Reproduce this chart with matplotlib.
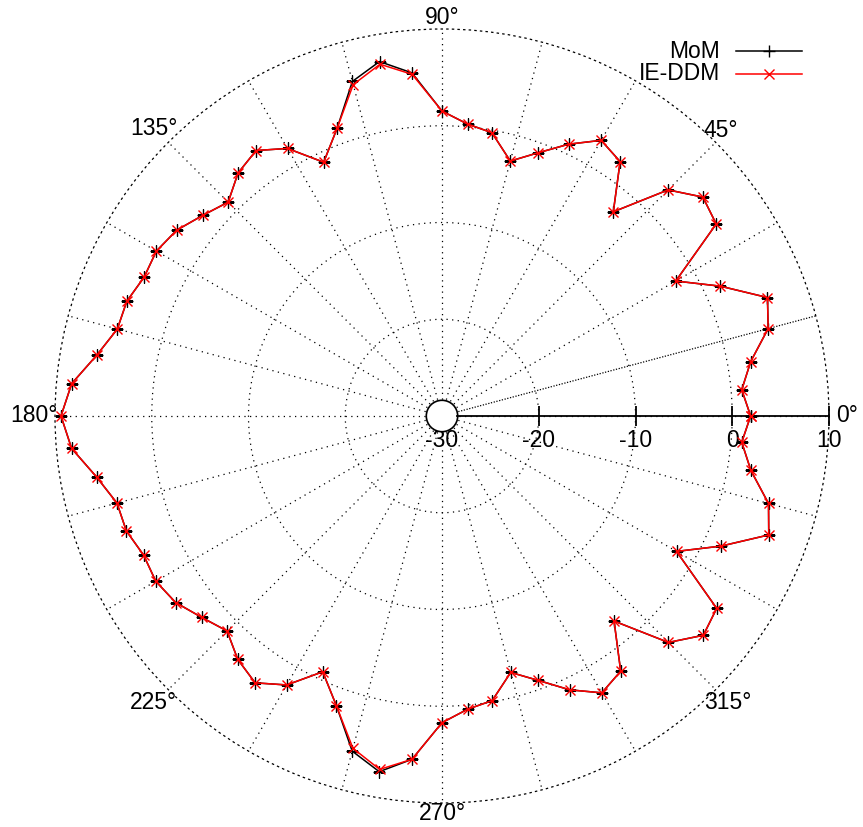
import numpy as np
import matplotlib
matplotlib.use('Agg')
import matplotlib.pyplot as plt
from matplotlib.lines import Line2D
from matplotlib.patches import Circle

plt.rcParams['font.family'] = ['Liberation Sans', 'DejaVu Sans']
plt.rcParams['font.size'] = 16.5

# angles of the samples (degrees) and the two patterns (dB)
angles_deg = list(range(0, 360, 5))

mom_db = [1.9, 1.1, 2.4, 4.9, 5.8, 1.75, -2.1, 4.6, 5.2, 3.05,
          -2.45, 2.1, 2.9, 1.0, -1.06, -2.72, -0.27, 0.29, 1.52, 5.6,
          7.2, 5.8, 1.67, -1.06, 1.93, 3.5, 2.79, 1.26, 2.27, 3.48,
          4.09, 3.97, 4.67, 4.74, 6.23, 8.42, 9.38, 8.43, 6.26, 4.78,
          4.72, 4.03, 4.16, 3.61, 2.4, 1.42, 2.84, 3.67, 2.1, -0.83,
          1.89, 5.86, 7.33, 5.62, 1.7, 0.42, -0.13, -2.56, -0.92, 1.23,
          3.04, 2.2, -2.33, 3.1, 5.26, 4.66, -2.01, 1.82, 5.94, 4.94,
          2.42, 1.1]

ieddm_db = [1.9, 1.1, 2.4, 4.9, 5.8, 1.75, -2.1, 4.6, 5.2, 3.05,
            -2.45, 2.1, 2.9, 1.0, -1.06, -2.72, -0.27, 0.29, 1.52, 5.45,
            6.92, 5.46, 1.67, -1.06, 1.93, 3.5, 2.79, 1.26, 2.27, 3.48,
            4.09, 3.97, 4.67, 4.74, 6.23, 8.42, 9.38, 8.43, 6.26, 4.78,
            4.72, 4.03, 4.16, 3.61, 2.4, 1.42, 2.84, 3.67, 2.1, -0.83,
            1.89, 5.56, 7.09, 5.62, 1.7, 0.42, -0.13, -2.56, -0.92, 1.23,
            3.04, 2.2, -2.33, 3.1, 5.26, 4.66, -2.01, 1.82, 5.94, 4.94,
            2.42, 1.1]

r_ticks = [-30, -20, -10, 0, 10]
theta_labels = [0, 45, 90, 135, 180, 225, 270, 315]

W, H = 863, 827
fig = plt.figure(figsize=(W / 100, H / 100), dpi=100)

# plot circle: centre (442, 416) px, radius 387 px
cx, cy, R = 442, 416, 387
ax = fig.add_axes([(cx - R) / W, (H - cy - R) / H, 2 * R / W, 2 * R / H], projection='polar')
ax.set_rlim(-30, 10)
ax.set_thetagrids(range(0, 360, 15), labels=[''] * 24)
ax.set_rgrids([-20, -10, 0], labels=[''] * 3)
dots = (0, (1, 3.5))
ax.grid(True, color='k', linestyle=dots, linewidth=0.9)
ax.spines['polar'].set_linestyle(dots)
ax.spines['polar'].set_linewidth(0.9)

# the 15 degree spoke looks denser in the original
ax.plot(np.radians([15, 15]), [-30, 10], color='k', linestyle=(2.2, (1, 3.5)), linewidth=0.9)

# radial axis along 0 degrees with ticks
ax.plot([0, 0], [-28.4, 10], color='k', linewidth=1.3, zorder=5)
ax.plot(np.zeros(4), r_ticks[1:], linestyle='none', marker='|', markersize=14,
        markeredgewidth=1.3, color='k', zorder=5, clip_on=False)
for r in r_ticks:
    ax.annotate(str(r), xy=(0, r), xytext=(0, -13), textcoords='offset pixels',
                ha='center', va='top', annotation_clip=False)

# small circle at the centre
ax.add_patch(Circle((0.5, 0.5), 15.7 / (2 * R), transform=ax.transAxes,
                    facecolor='white', edgecolor='k', linewidth=1.2, zorder=4))

# angle labels
label_pos = {0: (7, 0, 'left'), 45: (5.5, 12, 'center'), 90: (0, 11, 'center'),
             135: (-14, 14, 'center'), 180: (2.5, 0, 'right'), 225: (-15, -13, 'center'),
             270: (0, -10, 'center'), 315: (12, -13, 'center')}
for a in theta_labels:
    dx, dy, ha = label_pos[a]
    ax.annotate(f'{a}°', xy=(np.radians(a), 10), xytext=(dx, dy), textcoords='offset pixels',
                ha=ha, va='center', annotation_clip=False)

th = np.radians(angles_deg + [angles_deg[0]])
ax.plot(th, mom_db + [mom_db[0]], color='k', linewidth=1.1, marker='+',
        markersize=9, markeredgewidth=1.0, zorder=6)
ax.plot(th, ieddm_db + [ieddm_db[0]], color='red', linewidth=1.1, marker='x',
        markersize=7.5, markeredgewidth=1.0, zorder=7)

# legend in gnuplot style: label right-aligned, sample on the right
for label, color, mk, ms, ypx in [('MoM', 'k', '+', 9, 51), ('IE-DDM', 'red', 'x', 7.5, 73.5)]:
    y = 1 - ypx / H
    fig.text(720 / W, y, label, ha='right', va='center')
    fig.add_artist(Line2D([736 / W, 769 / W, 802 / W], [y, y, y], transform=fig.transFigure,
                          color=color, linewidth=1.1, marker=mk, markersize=ms,
                          markeredgewidth=1.0, markevery=[1]))

fig.savefig('out.png', dpi=100)
